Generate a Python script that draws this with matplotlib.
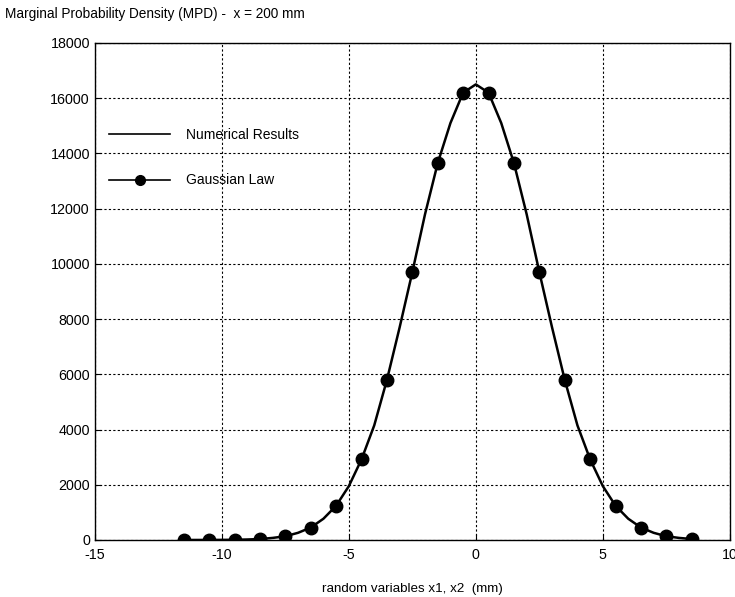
import matplotlib.pyplot as plt
from matplotlib.lines import Line2D

plt.rcParams["font.family"] = ["Liberation Sans", "DejaVu Sans"]
plt.rcParams["axes.unicode_minus"] = False

# Gaussian law (markers)
x_gauss = [-11.5, -10.5, -9.5, -8.5, -7.5, -6.5, -5.5, -4.5, -3.5, -2.5, -1.5,
           -0.5, 0.5, 1.5, 2.5, 3.5, 4.5, 5.5, 6.5, 7.5, 8.5]
y_gauss = [0, 2, 8, 35, 135, 450, 1240, 2920, 5800, 9700, 13650,
           16200, 16200, 13650, 9700, 5800, 2920, 1240, 450, 135, 35]

# numerical results (solid curve)
x_num = [-11.5, -11, -10.5, -10, -9.5, -9, -8.5, -8, -7.5, -7, -6.5, -6, -5.5,
         -5, -4.5, -4, -3.5, -3, -2.5, -2, -1.5, -1, -0.5, 0, 0.5, 1, 1.5, 2,
         2.5, 3, 3.5, 4, 4.5, 5, 5.5, 6, 6.5, 7, 7.5, 8, 8.5]
y_num = [0, 1, 2, 4, 8, 18, 35, 75, 135, 260, 450, 770, 1240,
         1950, 2920, 4150, 5800, 7700, 9700, 11800, 13650, 15100, 16200, 16500,
         16200, 15100, 13650, 11800, 9700, 7700, 5800, 4150, 2920, 1950, 1240,
         770, 450, 260, 135, 75, 35]

fig = plt.figure(figsize=(7.35, 5.97), dpi=100)
ax = fig.add_axes([0.129, 0.0955, 0.864, 0.8325])

ax.plot(x_num, y_num, color="black", linewidth=1.8)
ax.plot(x_gauss, y_gauss, linestyle="none", marker="o", markersize=9,
        color="black")

ax.set_xlim(-15, 10)
ax.set_ylim(0, 18000)
ax.set_xticks(range(-15, 11, 5))
ax.set_yticks(range(0, 18001, 2000))
ax.tick_params(direction="in", labelsize=10.3, length=4)
ax.tick_params(axis="x", pad=6)
ax.grid(True, color="black", linestyle=(0, (2, 2)), linewidth=0.8)
for s in ax.spines.values():
    s.set_linewidth(1.0)

ax.set_xlabel("random variables x1, x2  (mm)", fontsize=9.6, labelpad=15)
fig.text(0.007, 0.977, "Marginal Probability Density (MPD) -  x = 200 mm",
         fontsize=9.8, ha="left", va="center")

handles = [
    Line2D([], [], color="black", linewidth=1.2),
    Line2D([], [], color="black", linewidth=1.2, marker="o", markersize=7),
]
leg = ax.legend(handles, ["Numerical Results", "Gaussian Law"],
                loc="upper left", bbox_to_anchor=(0.003, 0.855), frameon=False,
                fontsize=10, handlelength=4.4, labelspacing=2.3,
                handletextpad=1.1)

fig.savefig("out.png", dpi=100)
